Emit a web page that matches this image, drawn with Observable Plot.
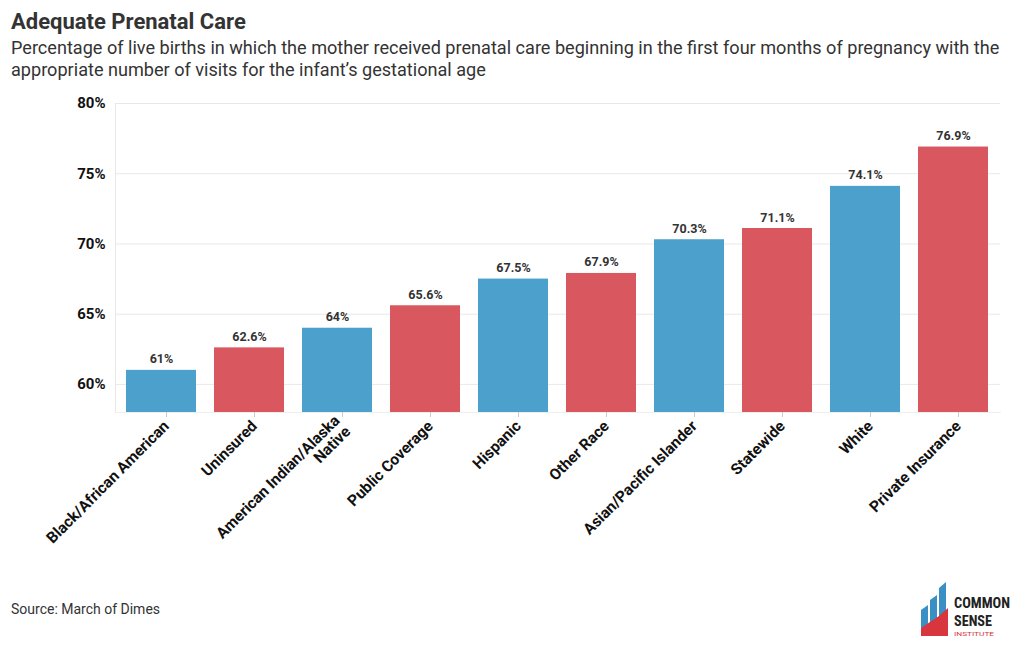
<!DOCTYPE html>
<html>
<head>
<meta charset="utf-8">
<script src="https://cdn.jsdelivr.net/npm/d3@7"></script>
<script src="https://cdn.jsdelivr.net/npm/@observablehq/plot@0.6"></script>
<style>
  html, body { margin: 0; padding: 0; background: #fff; font-family: Roboto, "Noto Sans", sans-serif; }
  #wrap { position: relative; width: 1020px; height: 650px; overflow: hidden; }
  #title { position: absolute; left: 11px; top: 9px; font-size: 22px; font-weight: 700; color: #333; }
  #subtitle { position: absolute; left: 11px; top: 37px; width: 1009px; font-size: 18.1px; line-height: 22px; color: #333; }
  #chart { position: absolute; left: 0; top: 85px; }
  #source { position: absolute; left: 11px; top: 601px; font-size: 14px; color: #333; }
  #logo { position: absolute; left: 918px; top: 578px; }
</style>
</head>
<body>
<div id="wrap">
  <div id="title">Adequate Prenatal Care</div>
  <div id="subtitle">Percentage of live births in which the mother received prenatal care beginning in the first four months of pregnancy with the appropriate number of visits for the infant’s gestational age</div>
  <div id="chart"></div>
  <div id="source">Source: March of Dimes</div>
  <div id="logo">
    <svg width="96" height="62" viewBox="0 0 96 62">
      <polygon points="3,32 10,27 10,58 3,58" fill="#3a8fc4"/>
      <polygon points="12,22 19,17 19,58 12,58" fill="#3a8fc4"/>
      <polygon points="21,10 28,4 28,58 21,58" fill="#3a8fc4"/>
      <polygon points="3,50 12,44 21,38 30,30 30,58 3,58" fill="#d9353f"/>
      <text x="36" y="30" font-family="Roboto Condensed, Roboto, sans-serif" font-size="15" font-weight="700" fill="#222" textLength="56" lengthAdjust="spacingAndGlyphs">COMMON</text>
      <text x="36" y="48" font-family="Roboto Condensed, Roboto, sans-serif" font-size="15" font-weight="700" fill="#222" textLength="38" lengthAdjust="spacingAndGlyphs">SENSE</text>
      <text x="36" y="58" font-family="Roboto, sans-serif" font-size="6" fill="#d9353f" textLength="40" lengthAdjust="spacingAndGlyphs">INSTITUTE</text>
    </svg>
  </div>
</div>
<script>
const categories = ["Black/African American", "Uninsured", "American Indian/Alaska\nNative", "Public Coverage", "Hispanic", "Other Race", "Asian/Pacific Islander", "Statewide", "White", "Private Insurance"];
const values = [61, 62.6, 64, 65.6, 67.5, 67.9, 70.3, 71.1, 74.1, 76.9];
const groups = ["race", "insurance", "race", "insurance", "race", "insurance", "race", "insurance", "race", "insurance"];
const yTicks = [60, 65, 70, 75, 80];

const data = categories.map((c, i) => ({category: c, value: values[i], group: groups[i]}));

const chart = Plot.plot({
  width: 1020,
  height: 507,
  marginLeft: 115,
  marginRight: 20,
  marginTop: 18,
  marginBottom: 180,
  style: {fontFamily: "Roboto, sans-serif", background: "#fff"},
  x: {domain: categories, paddingInner: 0.2, paddingOuter: 0.1, label: null},
  y: {domain: [58, 80], label: null},
  color: {domain: ["race", "insurance"], range: ["#4ba0cc", "#d9575f"]},
  marks: [
    Plot.gridY(yTicks, {stroke: "#e8e8e8", strokeOpacity: 1}),
    Plot.frame({anchor: "left", stroke: "#e8e8e8"}),
    Plot.frame({anchor: "bottom", stroke: "#eeeeee"}),
    Plot.barY(data, {x: "category", y1: 58, y2: "value", fill: "group"}),
    Plot.text(data, {x: "category", y: "value", text: d => d.value + "%", dy: -11, fontWeight: "bold", fontSize: 12.5, fill: "#333"}),
    Plot.axisY(yTicks, {tickSize: 0, tickPadding: 10, tickFormat: d => d + "%", fontWeight: "bold", fontSize: 15, fill: "#111"}),
    Plot.axisX({tickSize: 5, stroke: "#ccc", tickRotate: -45, tickPadding: 6, dx: 5, fontWeight: "bold", fontSize: 15.5, fill: "#111", label: null, lineWidth: 100})
  ]
});
document.getElementById("chart").appendChild(chart);
</script>
</body>
</html>
